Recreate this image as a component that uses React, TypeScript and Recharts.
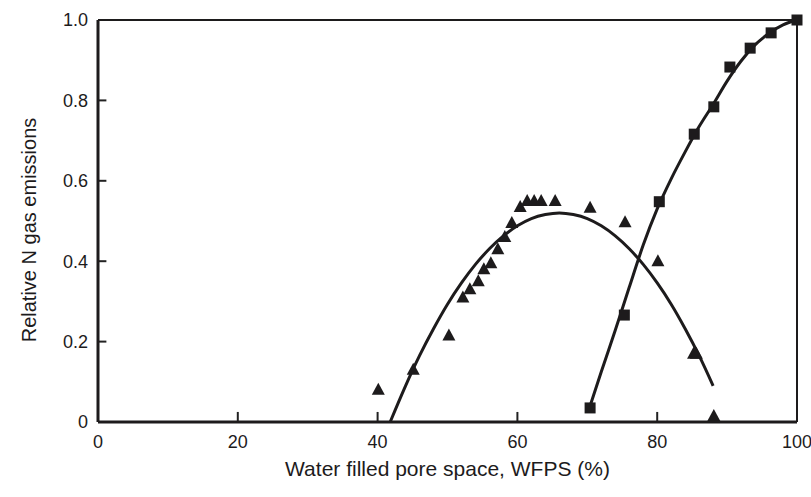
import React from 'react';
import { ComposedChart, Line, Scatter, XAxis, YAxis, ReferenceLine } from 'recharts';

// Measured data points (triangles)
const triX = [40.1, 45.1, 50.2, 52.2, 53.2, 54.4, 55.2, 56.2, 57.2, 58.2, 59.2, 60.4, 61.4, 62.4, 63.4, 65.4, 70.4, 75.4, 80.1, 85.2, 85.6, 88.1];
const triY = [0.08, 0.13, 0.215, 0.31, 0.33, 0.35, 0.38, 0.395, 0.43, 0.46, 0.495, 0.535, 0.55, 0.55, 0.55, 0.55, 0.533, 0.497, 0.4, 0.17, 0.17, 0.015];

// Measured data points (squares)
const sqX = [70.4, 75.3, 80.3, 85.3, 88.1, 90.4, 93.3, 96.3, 100];
const sqY = [0.035, 0.266, 0.548, 0.716, 0.784, 0.883, 0.93, 0.968, 1.0];

// Fitted curve (triangles)
const triCurveX = [41.8, 44, 46, 48, 50, 52, 54, 56, 58, 60, 62, 64, 66, 68, 70, 72, 74, 76, 78, 80, 82, 84, 86, 88];
const triCurveY = [0, 0.09, 0.165, 0.232, 0.293, 0.346, 0.392, 0.431, 0.463, 0.488, 0.506, 0.516, 0.52, 0.516, 0.506, 0.488, 0.463, 0.431, 0.392, 0.346, 0.293, 0.232, 0.165, 0.09];

// Fitted curve (squares)
const sqCurveX = [70.4, 72, 74, 76, 78, 80, 82, 84, 86, 88, 90, 92, 94, 96, 98, 100];
const sqCurveY = [0.04, 0.125, 0.228, 0.335, 0.44, 0.53, 0.605, 0.672, 0.735, 0.79, 0.848, 0.898, 0.938, 0.967, 0.988, 1.0];

const xTicks = [0, 20, 40, 60, 80, 100];
const yTicks = [0, 0.2, 0.4, 0.6, 0.8, 1.0];
const xInnerTicks = [20, 40, 60, 80];
const yInnerTicks = [0.2, 0.4, 0.6, 0.8];

const triData = triX.map((x, i) => ({ x, y: triY[i] }));
const sqData = sqX.map((x, i) => ({ x, y: sqY[i] }));
const triCurve = triCurveX.map((x, i) => ({ x, y: triCurveY[i] }));
const sqCurve = sqCurveX.map((x, i) => ({ x, y: sqCurveY[i] }));

const INK = '#1d1b1c';
const TICK = '#222';
const FONT = '"Liberation Sans", Arial, Helvetica, sans-serif';

const XTick = (props: any) => {
  const { x, y, payload } = props;
  return (
    <text x={x} y={y} dy="0.71em" textAnchor="middle" fontSize={18} fill={INK} fontFamily={FONT}>
      {payload.value}
    </text>
  );
};

const YTick = (props: any) => {
  const { x, y, payload } = props;
  const v = payload.value;
  return (
    <text x={x} y={y} dy="0.35em" textAnchor="end" fontSize={18} fill={INK} fontFamily={FONT}>
      {v === 0 ? '0' : v.toFixed(1)}
    </text>
  );
};

const Triangle = (props: any) => {
  const { cx, cy } = props;
  return <polygon points={`${cx},${cy - 7} ${cx - 6.5},${cy + 5} ${cx + 6.5},${cy + 5}`} fill={INK} />;
};

const Square = (props: any) => {
  const { cx, cy } = props;
  return <rect x={cx - 5.5} y={cy - 5.5} width={11} height={11} fill={INK} />;
};

export default function App() {
  return (
    <div style={{ position: 'absolute', left: 0, top: 0, width: 811, height: 497, background: '#fff' }}>
      <ComposedChart width={811} height={497} margin={{ top: 20, right: 14, bottom: 0, left: 0 }}>
        <XAxis
          dataKey="x"
          type="number"
          domain={[0, 100]}
          ticks={xTicks}
          height={75}
          tickSize={0}
          tickMargin={13}
          tick={<XTick />}
          tickLine={false}
          axisLine={{ stroke: INK, strokeWidth: 3 }}
          allowDuplicatedCategory={false}
          label={{
            content: (p: any) => {
              const vb = p.viewBox;
              return (
                <text x={vb.x + vb.width / 2} y={vb.y + 54} textAnchor="middle" fontSize={21} fill={INK} fontFamily={FONT}>
                  Water filled pore space, WFPS (%)
                </text>
              );
            },
          }}
        />
        <YAxis
          dataKey="y"
          type="number"
          domain={[0, 1]}
          ticks={yTicks}
          width={98}
          tickSize={0}
          tickMargin={10}
          tick={<YTick />}
          tickLine={false}
          axisLine={{ stroke: INK, strokeWidth: 3 }}
          label={{
            content: (p: any) => {
              const vb = p.viewBox;
              const cx = vb.x + 29;
              const cy = vb.y + vb.height / 2 + 9;
              return (
                <text x={cx} y={cy} transform={`rotate(-90 ${cx} ${cy})`} textAnchor="middle" dominantBaseline="central" fontSize={20} fill={INK} fontFamily={FONT}>
                  Relative N gas emissions
                </text>
              );
            },
          }}
        />
        <ReferenceLine y={1} stroke={INK} strokeWidth={2} />
        <ReferenceLine x={100} stroke={INK} strokeWidth={2} />
        {xInnerTicks.map((t) => (
          <ReferenceLine key={'xt' + t} segment={[{ x: t, y: 0 }, { x: t, y: 0.025 }]} stroke={TICK} strokeWidth={2} />
        ))}
        {yInnerTicks.map((t) => (
          <ReferenceLine key={'yt' + t} segment={[{ x: 0, y: t }, { x: 1.2, y: t }]} stroke={TICK} strokeWidth={2} />
        ))}
        <Line data={triCurve} dataKey="y" type="monotone" stroke={INK} strokeWidth={3} dot={false} isAnimationActive={false} />
        <Line data={sqCurve} dataKey="y" type="monotone" stroke={INK} strokeWidth={3} dot={false} isAnimationActive={false} />
        <Scatter data={triData} dataKey="y" shape={<Triangle />} isAnimationActive={false} />
        <Scatter data={sqData} dataKey="y" shape={<Square />} isAnimationActive={false} />
      </ComposedChart>
    </div>
  );
}
